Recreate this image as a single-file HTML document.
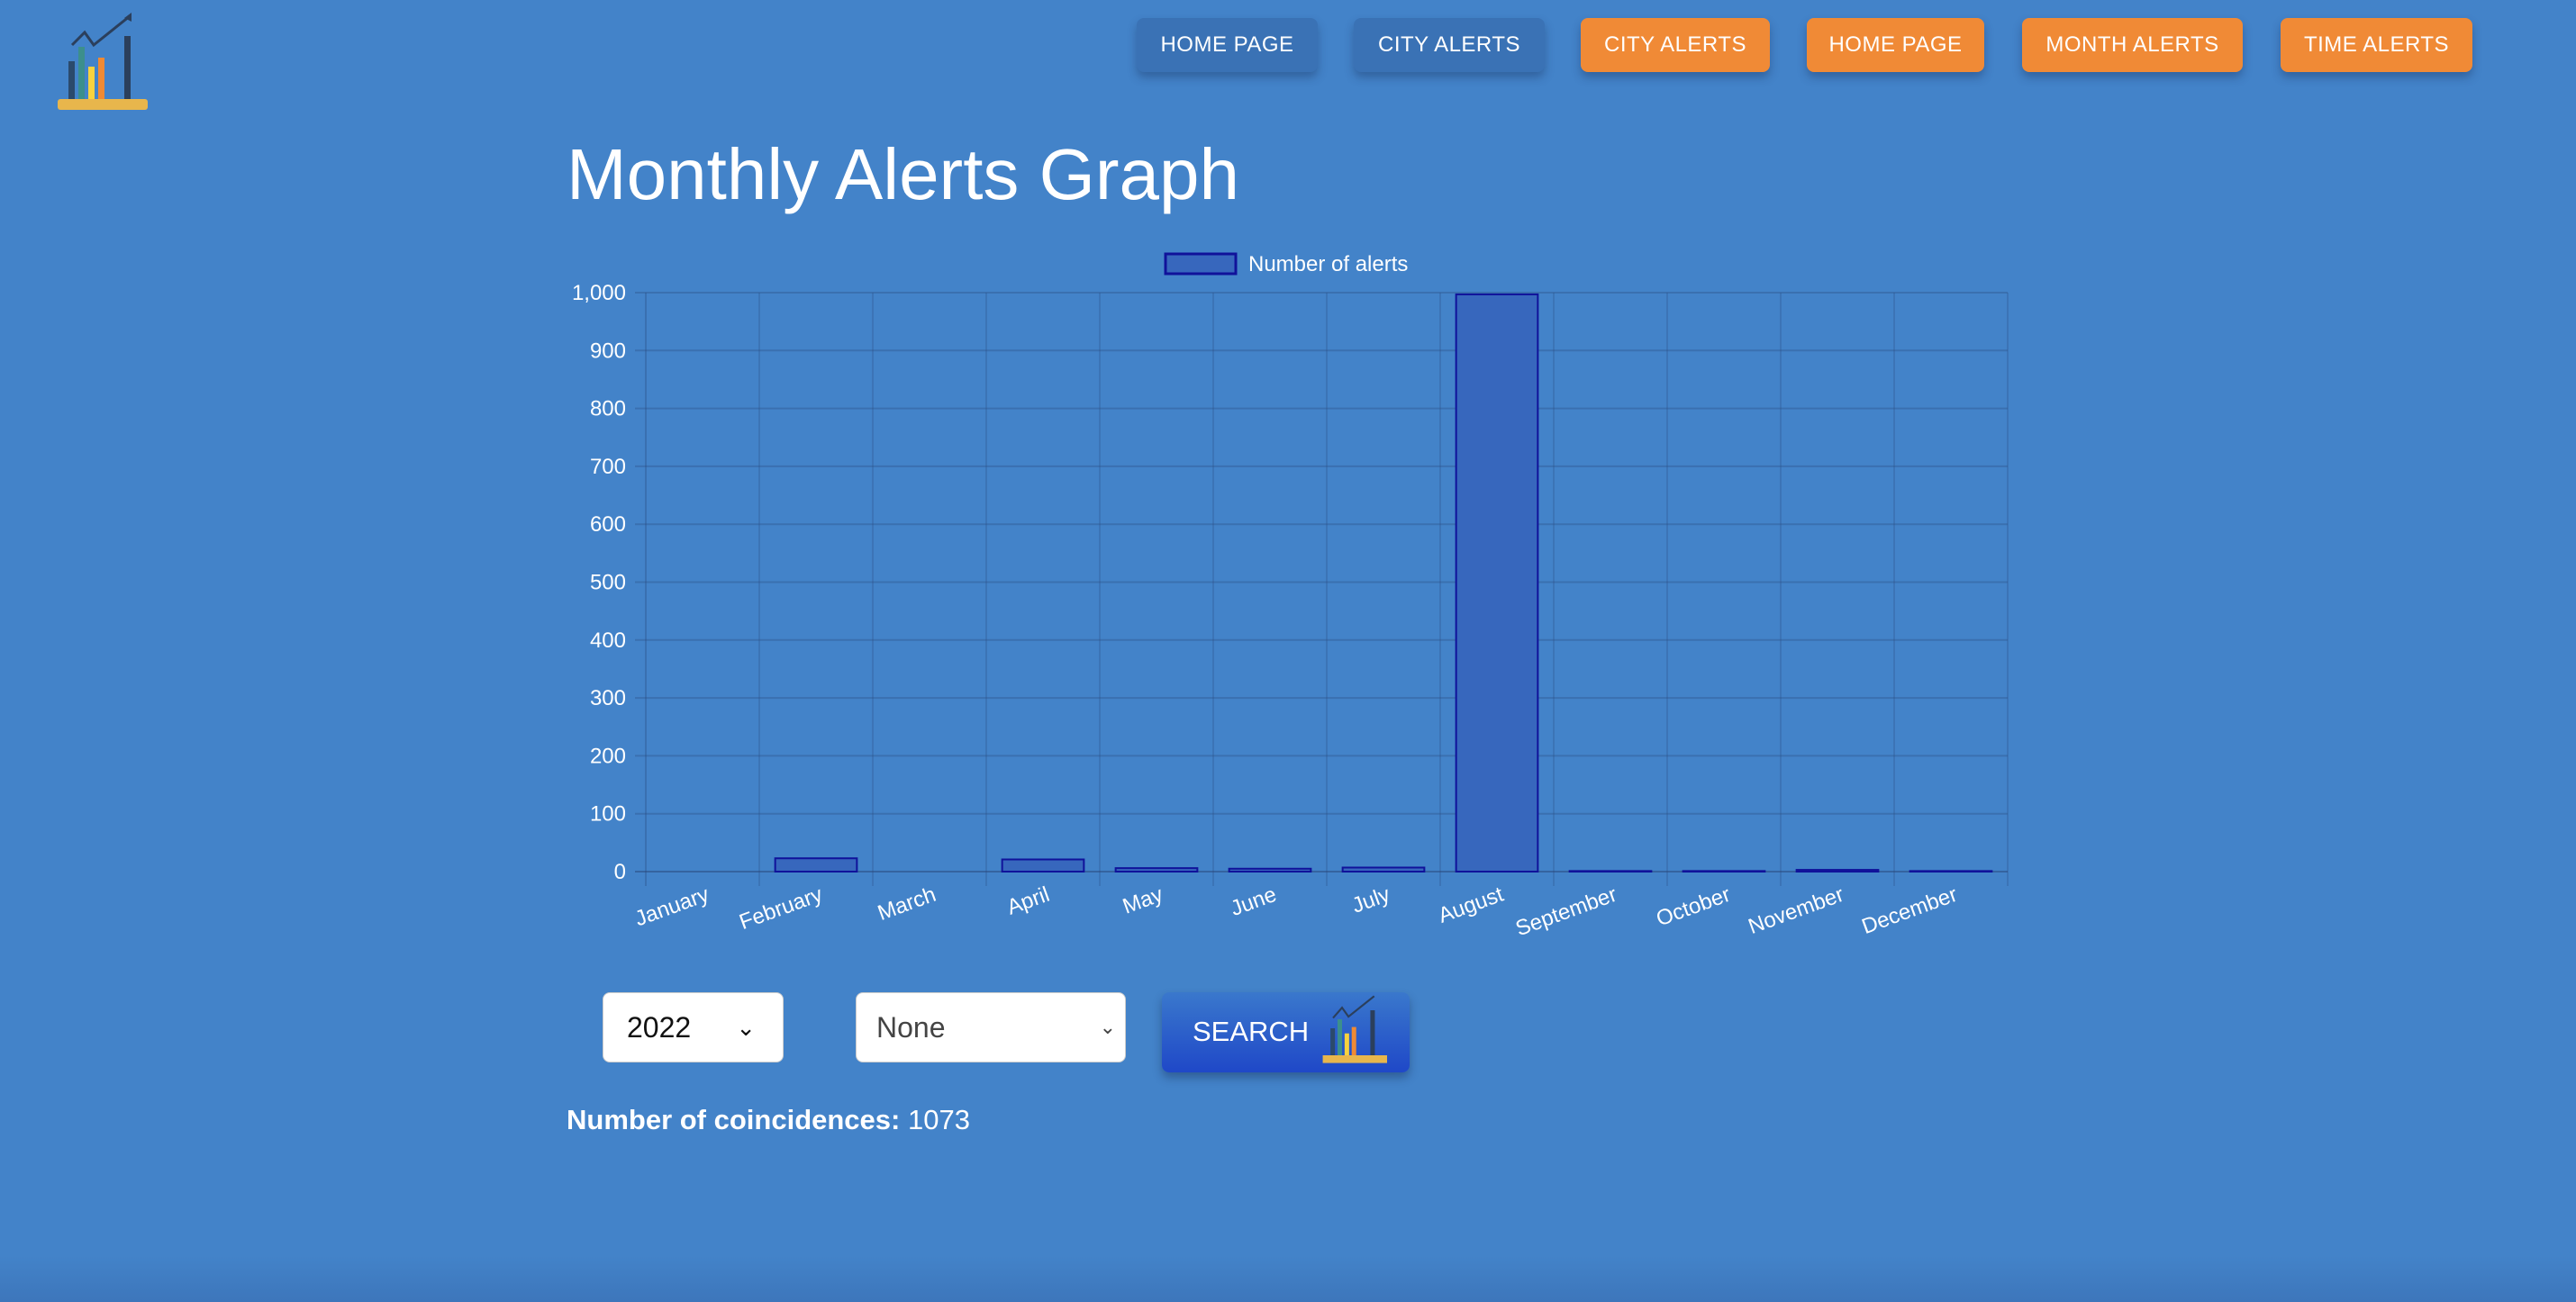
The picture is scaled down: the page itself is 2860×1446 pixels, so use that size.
<!DOCTYPE html>
<html><head><meta charset="utf-8">
<style>
html,body{margin:0;padding:0;width:2860px;height:1446px;overflow:hidden;background:#4383c9;font-family:"Liberation Sans",Arial,sans-serif;}
.page{position:relative;width:2860px;height:1446px;background:linear-gradient(to bottom,#4383c9 0,#4383c9 1395px,#3d76bb 1446px);}
.nav{position:absolute;top:20px;height:60px;border-radius:8px;color:#fff;font-size:24px;display:flex;align-items:center;justify-content:center;box-shadow:0 6px 10px rgba(20,40,80,.35);letter-spacing:.5px;}
.blue{background:#3a72b5;}
.orange{background:#f08a36;}
h1{position:absolute;left:629px;top:148px;margin:0;font-weight:normal;color:#fff;font-size:80px;}
.sel{position:absolute;top:1102px;height:78px;background:#fff;border-radius:8px;border:1px solid #ccc;box-sizing:border-box;font-size:32px;display:flex;align-items:center;}
.count{position:absolute;left:629px;top:1226px;color:#fff;font-size:31px;}
</style></head><body>
<div class="page">
<svg style="position:absolute;left:60px;top:12px" width="110" height="112" viewBox="0 0 110 112">
<polyline points="20,38 34,24 44,38 84,6" fill="none" stroke="#2b3f5c" stroke-width="3"/>
<polygon points="86,2 78,8 86,12" fill="#2b3f5c"/>
<rect x="16" y="56" width="7" height="48" fill="#2b4a6c"/>
<rect x="27" y="40" width="7" height="64" fill="#3c8f8c"/>
<rect x="38" y="62" width="7" height="42" fill="#f7d23e"/>
<rect x="49" y="52" width="7" height="52" fill="#ef8a34"/>
<rect x="78" y="28" width="7" height="76" fill="#2b3f5c"/>
<rect x="4" y="98" width="100" height="12" rx="3" fill="#e8b64c"/>
</svg>
<div class="nav blue" style="left:1262px;width:201px">HOME PAGE</div>
<div class="nav blue" style="left:1503px;width:212px">CITY ALERTS</div>
<div class="nav orange" style="left:1755px;width:210px">CITY ALERTS</div>
<div class="nav orange" style="left:2006px;width:197px">HOME PAGE</div>
<div class="nav orange" style="left:2245px;width:245px">MONTH ALERTS</div>
<div class="nav orange" style="left:2532px;width:213px">TIME ALERTS</div>
<h1>Monthly Alerts Graph</h1>
<svg id="chart" style="position:absolute;left:0;top:0" width="2860" height="1100"></svg>
<div class="sel" style="left:669px;width:201px;padding-left:26px;color:#111">2022<span style="position:absolute;right:30px;font-size:26px">&#8964;</span></div>
<div class="sel" style="left:950px;width:300px;padding-left:22px;color:#444">None<span style="position:absolute;right:10px;font-size:22px">&#8964;</span></div>
<div style="position:absolute;left:1290px;top:1102px;width:275px;height:89px;border-radius:8px;background:linear-gradient(#3a78cc,#1f48c8);box-shadow:0 6px 10px rgba(20,40,80,.4);color:#fff;font-size:31px;">
<span style="position:absolute;left:34px;top:26px">SEARCH</span>
<svg style="position:absolute;left:175px;top:0" width="80" height="80" viewBox="0 0 110 112">
<polyline points="20,40 34,24 44,38 84,6" fill="none" stroke="#2b3f5c" stroke-width="3"/>
<rect x="16" y="56" width="7" height="48" fill="#2b4a6c"/><rect x="27" y="42" width="7" height="62" fill="#3c8f8c"/>
<rect x="38" y="64" width="7" height="40" fill="#f7d23e"/><rect x="49" y="54" width="7" height="50" fill="#ef8a34"/>
<rect x="78" y="28" width="7" height="76" fill="#2b3f5c"/><rect x="4" y="98" width="100" height="12" fill="#e8b64c"/></svg>
</div>
<div class="count"><b>Number of coincidences:</b> 1073</div>
</div>
<script>
const categories=["January","February","March","April","May","June","July","August","September","October","November","December"];
const values=[0,23,0,21,6,5,7,997,1,1,3,1];
const yTicks=[0,100,200,300,400,500,600,700,800,900,1000];
const yTickLabels=["0","100","200","300","400","500","600","700","800","900","1,000"];
const seriesLabel="Number of alerts";
(function(){
const svg=document.getElementById('chart');const NS='http://www.w3.org/2000/svg';
const L=717,R=2229,T=325,B=968,yMax=1000;
const y=v=>B-(v/yMax)*(B-T);
const cw=(R-L)/categories.length;
const x=i=>L+cw*i;
function mk(t,a){const e=document.createElementNS(NS,t);for(const k in a)e.setAttribute(k,a[k]);svg.appendChild(e);return e;}
const grid="rgba(40,70,120,0.3)";
yTicks.forEach((v,i)=>{
 const l=mk('line',{x1:L-12,x2:R,y1:y(v),y2:y(v),stroke:i==0?"rgba(40,70,120,0.5)":grid,'stroke-width':2});
 
 
 const t=mk('text',{x:L-22,y:y(v)+8,'text-anchor':'end',fill:'#fff','font-size':24});
 t.textContent=yTickLabels[i];
 
 
});
for(let i=0;i<=categories.length;i++){
 const l=mk('line',{x1:x(i),x2:x(i),y1:T,y2:B+16,stroke:grid,'stroke-width':i==0?2:1.5});
 
 
}
categories.forEach((c,i)=>{
 const bw=cw*0.72,bx=x(i)+(cw-bw)/2;
 const h=B-y(values[i]);
 const r=mk('rect',{x:bx,y:y(values[i]),width:bw,height:Math.max(h,0),fill:'#3767bd',stroke:'#10129a','stroke-width':2});
 
 
 const cx=x(i)+cw/2+6;
 const t=mk('text',{x:cx,y:1000,'text-anchor':'end',fill:'#fff','font-size':24,transform:'rotate(-20 '+cx+' 992)'});
 t.textContent=c;
 
 
});
const lb=mk('rect',{x:1294,y:282,width:78,height:22,fill:'#3767bd',stroke:'#10129a','stroke-width':3});


const lt=mk('text',{x:1386,y:301,fill:'#fff','font-size':24});
lt.textContent=seriesLabel;


})();
</script>
</body></html>
